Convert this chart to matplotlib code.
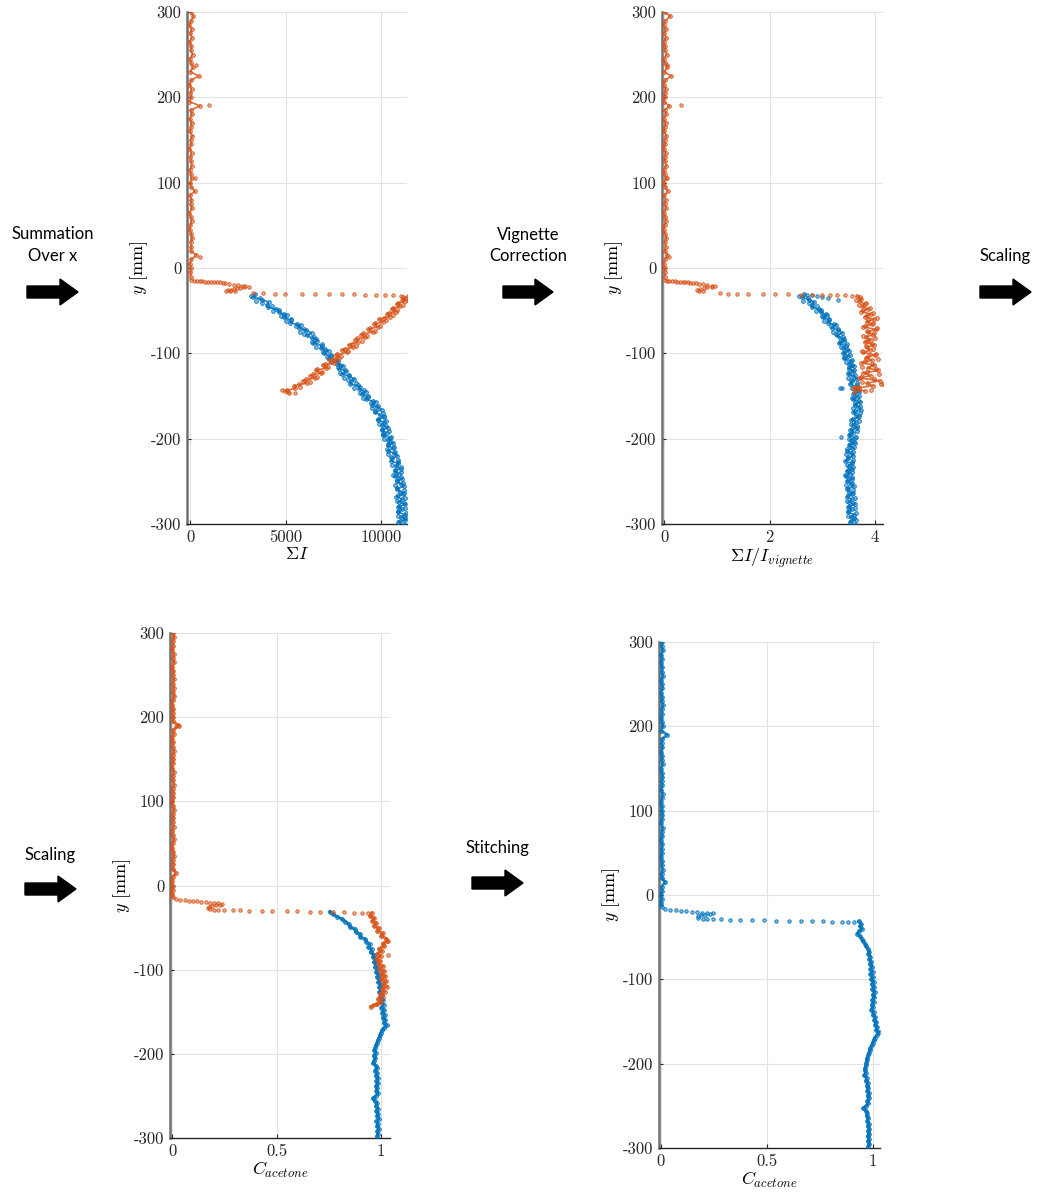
"""Acetone concentration profile processing: summation, vignette correction, scaling, stitching."""
import numpy as np
import matplotlib
matplotlib.use('Agg')
import matplotlib.pyplot as plt
from matplotlib.colors import to_rgba
from matplotlib.patches import FancyArrow

plt.rcParams['font.family'] = 'serif'
plt.rcParams['font.serif'] = ['cmr10']
plt.rcParams['mathtext.fontset'] = 'cm'
plt.rcParams['axes.unicode_minus'] = False

BLUE = '#0072BD'
ORANGE = '#D95319'

Y_TICKS = [-300, -200, -100, 0, 100, 200, 300]

# ---------------- panel 1: sum over x ----------------
p1_top = [30, 180, 60, -40, 90, 20, 110, -30, 70, 40,
          130, -20, 60, 150, 10, 460, 50, -30, 80, 20,
          60, -40, 520, 30, 100, -20, 90, 40, -10, 120,
          30, 60, -30, 80, 20, 50, 100, -20, 40, 90,
          10, 60, 250, -10, 70, 30, 100, -30, 50, 80,
          20, -20, 60, 110, 30, 70, 40, 330, 60, -20,
          40, 20, 30]
p1_extra_x = [1010, 520, 330, 260]
p1_extra_y = [191, 13, 238, 106]
p1_trans_x = [50, 200, 350, 500, 650, 800, 950, 1100, 1250, 1400, 1550, 1700, 1850, 2050,
              2300, 2500, 2700, 2900, 3100, 2800, 2600, 2450, 2300, 2150, 2000, 1900, 2100, 2350]
p1_trans_y = [-14.5, -15, -15.2, -15.5, -15.7, -15.9, -16.1, -16.3, -16.5, -16.7, -16.9, -17.1, -17.3, -18.5,
              -19.5, -20.2, -20.8, -21.3, -21.8, -22.5, -23.2, -23.8, -24.5, -25.2, -26, -26.8, -27.3, -26.6]
p1_gap_x = [3310, 3830, 4440, 4990, 5840, 6530, 7260, 7980, 8590, 9180, 9720, 10190, 10630, 11060]
p1_gap_y = [-29.6, -29.8, -29.9, -30.0, -30.2, -30.4, -30.6, -30.8, -31.0, -31.3, -31.5, -31.8, -32.0, -32.3]
p1_orange_low = [11420, 11150, 11230, 10820, 11010, 10560, 10780, 10310, 10480, 9880,
                 10120, 9650, 9820, 9330, 9560, 8950, 9180, 8640, 8790, 8300,
                 8520, 7950, 8200, 7650, 7800, 7290, 7560, 6950, 7130, 6600,
                 6850, 6280, 6530, 5900, 6100, 5450, 5520, 4980]
p1_orange_low_b = [11170, 11420, 10900, 11140, 10610, 10830, 10400, 10650, 10130, 10260,
                   9670, 9920, 9440, 9690, 9080, 9240, 8730, 8980, 8490, 8680,
                   8110, 8280, 7690, 7910, 7460, 7640, 7050, 7240, 6660, 6930,
                   6440, 6630, 6060, 6280, 5730, 5770, 5100, 5150]
p1_orange_low_extra_x = [5200, 4800, 5500, 11300, 11100]
p1_orange_low_extra_y = [-146, -143, -147, -35, -38]
p1_blue = [3420, 3320, 3760, 4110, 4010, 4070, 4650, 4650, 5060, 4920,
           5280, 5240, 5790, 5690, 6060, 6360, 6110, 6380, 6670, 6450,
           6890, 6850, 7250, 7030, 7360, 7250, 7730, 7670, 8030, 7810,
           8160, 7980, 8340, 8600, 8410, 8390, 8900, 8840, 9200, 9000,
           9310, 9220, 9720, 9550, 9810, 10030, 9710, 9920, 10130, 9820,
           10180, 10050, 10360, 10050, 10290, 10090, 10480, 10340, 10630, 10340,
           10630, 10380, 10670, 10860, 10600, 10500, 10910, 10760, 11020, 10720,
           10920, 10710, 11100, 10840, 11040, 11200, 10830, 10980, 11150, 10800,
           11120, 10960, 11240, 10900, 11110, 10880, 11240, 11060, 11280, 10900]
p1_blue_b = [3200, 3650, 3460, 3780, 4310, 4480, 4330, 4920, 4760, 5260,
             5000, 5600, 5530, 5980, 5760, 5990, 6490, 6590, 6400, 6900,
             6610, 7070, 6950, 7390, 7150, 7670, 7380, 7870, 7750, 8130,
             7840, 8310, 8040, 8270, 8710, 8800, 8580, 9110, 8900, 9340,
             9030, 9580, 9460, 9840, 9510, 9660, 10090, 10130, 9860, 10270,
             9900, 10270, 10060, 10410, 10080, 10510, 10130, 10540, 10350, 10660,
             10310, 10710, 10370, 10530, 10900, 10910, 10590, 11030, 10720, 11060,
             10640, 11070, 10840, 11130, 10740, 10830, 11210, 11190, 10880, 11250,
             10840, 11180, 10940, 11260, 10900, 11300, 10890, 11260, 11000, 11220]

# ---------------- panel 2: vignette corrected ----------------
p2_top = [0.01, 0.12, 0.02, -0.01, 0.03, 0.0, 0.04, -0.01, 0.02, 0.01,
          0.05, -0.01, 0.02, 0.06, 0.0, 0.13, 0.02, -0.01, 0.03, 0.01,
          0.02, -0.01, 0.10, 0.01, 0.04, -0.01, 0.03, 0.01, 0.0, 0.04,
          0.01, 0.02, -0.01, 0.03, 0.01, 0.02, 0.04, -0.01, 0.01, 0.03,
          0.0, 0.02, 0.07, 0.0, 0.03, 0.01, 0.04, -0.01, 0.02, 0.03,
          0.01, -0.01, 0.02, 0.04, 0.01, 0.03, 0.01, 0.06, 0.02, -0.01,
          0.01, 0.01, 0.01]
p2_extra_x = [0.32, 0.10, 0.05, 0.06]
p2_extra_y = [191, 13, 238, 106]
p2_trans_x = [0.02, 0.06, 0.1, 0.15, 0.2, 0.25, 0.3, 0.35, 0.4, 0.45, 0.5, 0.55, 0.6,
              0.66, 0.74, 0.82, 0.9, 0.96, 0.9, 0.82, 0.75, 0.68, 0.62, 0.66, 0.74]
p2_trans_y = [-14.5, -15, -15.3, -15.6, -15.8, -16, -16.2, -16.4, -16.6, -16.8, -17, -17.2, -17.4,
              -18.5, -19.3, -20, -20.6, -21.2, -22, -22.8, -23.6, -24.5, -25.4, -26.4, -27.2]
p2_gap_x = [1.06, 1.22, 1.39, 1.59, 1.88, 2.1, 2.35, 2.59, 2.8, 2.99, 3.15, 3.27, 3.43, 3.56]
p2_gap_y = [-29.8, -30.0, -30.2, -30.4, -30.6, -30.8, -31.0, -31.2, -31.4, -31.6, -31.8, -32.0, -32.2, -32.4]
p2_orange_low = [3.66, 3.74, 3.70, 3.80, 3.76, 3.86, 3.74, 3.92, 3.80, 3.98,
                 3.84, 3.94, 3.78, 4.02, 3.86, 3.96, 3.82, 3.92, 3.80, 3.98,
                 3.84, 3.90, 3.78, 4.00, 3.82, 3.94, 3.74, 3.98, 3.86, 4.06,
                 3.78, 3.92, 3.70, 4.10, 3.84, 3.96, 3.62, 3.80]
p2_orange_low_b = [3.72, 3.64, 3.82, 3.70, 3.90, 3.78, 3.96, 3.84, 4.04, 3.86,
                   3.96, 3.80, 4.04, 3.84, 3.98, 3.78, 4.00, 3.86, 3.94, 3.82,
                   3.96, 3.76, 4.02, 3.86, 4.06, 3.80, 3.94, 3.76, 4.02, 3.84,
                   4.08, 3.74, 3.98, 3.76, 4.12, 3.70, 3.92, 3.60]
p2_orange_low_extra_x = [4.15, 3.58, 3.70, 3.65]
p2_orange_low_extra_y = [-136, -141, -143, -139]
p2_blue = [2.66, 2.61, 2.74, 2.85, 2.80, 2.80, 2.98, 2.97, 3.08, 3.02,
           3.13, 3.10, 3.26, 3.19, 3.30, 3.38, 3.28, 3.34, 3.42, 3.32,
           3.44, 3.40, 3.51, 3.40, 3.49, 3.42, 3.55, 3.50, 3.60, 3.50,
           3.59, 3.50, 3.59, 3.65, 3.56, 3.52, 3.66, 3.61, 3.69, 3.59,
           3.65, 3.58, 3.71, 3.61, 3.68, 3.73, 3.59, 3.63, 3.68, 3.55,
           3.64, 3.58, 3.66, 3.53, 3.59, 3.50, 3.61, 3.54, 3.61, 3.50,
           3.57, 3.47, 3.54, 3.59, 3.49, 3.43, 3.56, 3.50, 3.57, 3.46,
           3.52, 3.44, 3.57, 3.47, 3.54, 3.60, 3.47, 3.51, 3.57, 3.46,
           3.56, 3.51, 3.61, 3.49, 3.56, 3.49, 3.60, 3.54, 3.63, 3.52]
p2_blue_b = [2.56, 2.72, 2.64, 2.75, 2.90, 2.94, 2.88, 3.06, 3.00, 3.13,
             3.04, 3.22, 3.17, 3.29, 3.20, 3.26, 3.40, 3.41, 3.33, 3.47,
             3.35, 3.47, 3.41, 3.52, 3.42, 3.56, 3.44, 3.56, 3.51, 3.60,
             3.49, 3.61, 3.49, 3.55, 3.66, 3.66, 3.56, 3.70, 3.61, 3.70,
             3.56, 3.70, 3.62, 3.71, 3.58, 3.61, 3.71, 3.70, 3.59, 3.70,
             3.55, 3.65, 3.56, 3.65, 3.52, 3.64, 3.50, 3.60, 3.52, 3.60,
             3.47, 3.58, 3.44, 3.49, 3.59, 3.57, 3.46, 3.59, 3.49, 3.57,
             3.43, 3.56, 3.48, 3.57, 3.44, 3.48, 3.59, 3.58, 3.48, 3.61,
             3.47, 3.58, 3.51, 3.61, 3.49, 3.63, 3.49, 3.60, 3.54, 3.62]
p2_blue_extra_x = [2.7, 2.8, 2.9, 3.0, 3.1, 3.3, 3.37, 3.33, 3.36]
p2_blue_extra_y = [-31.5, -32, -33, -34, -35, -38, -141, -141, -198]

# ---------------- panel 3: scaled ----------------
p3_top = [0.004, 0.008, 0.002, 0.006, 0.0, 0.007, 0.003, 0.009, 0.001, 0.006,
          0.004, 0.008, 0.002, 0.007, 0.003, 0.010, 0.004, 0.001, 0.006, 0.003,
          0.005, 0.002, 0.035, 0.004, 0.007, 0.001, 0.005, 0.003, 0.008, 0.002,
          0.006, 0.004, 0.001, 0.007, 0.003, 0.005, 0.008, 0.002, 0.004, 0.006,
          0.001, 0.005, 0.009, 0.002, 0.006, 0.003, 0.007, 0.001, 0.004, 0.008,
          0.003, 0.000, 0.005, 0.007, 0.002, 0.006, 0.003, 0.018, 0.004, 0.001,
          0.003, 0.002, 0.001]
p3_extra_x = [0.02, 0.03]
p3_extra_y = [189, 191]
p3_trans_x = [0.0, 0.005, 0.02, 0.04, 0.06, 0.08, 0.1, 0.12, 0.14, 0.16, 0.18, 0.2, 0.22, 0.24,
              0.23, 0.21, 0.19, 0.175, 0.17, 0.18, 0.2, 0.22]
p3_trans_y = [-12, -14, -16.5, -17, -17.5, -18, -18.5, -19, -19.5, -20, -20.5, -21, -21.3, -21.6,
              -22.6, -23.6, -24.6, -25.6, -27, -28.2, -28.6, -28.9]
p3_gap_x = [0.25, 0.29, 0.325, 0.37, 0.43, 0.48, 0.55, 0.6, 0.66, 0.71, 0.77, 0.825, 0.87, 0.91, 0.94]
p3_gap_y = [-29.2, -29.4, -29.6, -29.8, -30.0, -30.2, -30.4, -30.6, -30.9, -31.2, -31.5, -31.8, -32.1, -32.3, -32.5]
p3_orange_low = [0.955, 0.948, 0.968, 0.958, 0.978, 0.966, 0.99, 0.982, 1.008, 1.0,
                 1.025, 1.03, 1.008, 1.015, 0.99, 1.003, 0.982, 0.998, 0.978, 0.995,
                 0.985, 1.01, 0.992, 1.015, 1.0, 1.02, 0.998, 1.025, 1.01, 1.03,
                 1.005, 1.018, 0.995, 1.008, 0.985, 1.0, 0.98, 0.95]
p3_orange_low_extra_x = [0.96, 0.975, 1.035, 1.035]
p3_orange_low_extra_y = [-142, -141, -66, -83]
p3_blue = [0.755, 0.77, 0.79, 0.815, 0.83, 0.845, 0.85, 0.875, 0.88, 0.9,
           0.9, 0.925, 0.93, 0.945, 0.94, 0.955, 0.95, 0.965, 0.96, 0.975,
           0.965, 0.98, 0.97, 0.985, 0.975, 0.99, 0.98, 0.995, 0.985, 1.0,
           0.99, 1.0, 0.992, 1.005, 0.995, 1.01, 1.0, 1.012, 1.0, 1.015,
           1.005, 1.018, 1.008, 1.02, 1.012, 1.028, 1.015, 1.005, 1.0, 0.995,
           0.99, 0.985, 0.98, 0.975, 0.972, 0.968, 0.975, 0.965, 0.972, 0.968,
           0.962, 0.975, 0.98, 0.97, 0.982, 0.975, 0.985, 0.978, 0.985, 0.975,
           0.982, 0.978, 0.985, 0.975, 0.96, 0.97, 0.98, 0.975, 0.985, 0.978,
           0.985, 0.98, 0.99, 0.978, 0.985, 0.98, 0.99, 0.982, 0.985, 0.98]

# ---------------- panel 4: stitched ----------------
p4_top = [0.005, 0.003, 0.008, 0.002, 0.006, 0.001, 0.007, 0.004, 0.009, 0.002,
          0.005, 0.007, 0.001, 0.006, 0.004, 0.009, 0.003, 0.006, 0.002, 0.005,
          0.008, 0.001, 0.03, 0.005, 0.003, 0.007, 0.002, 0.006, 0.004, 0.008,
          0.001, 0.005, 0.007, 0.003, 0.006, 0.002, 0.008, 0.004, 0.001, 0.006,
          0.003, 0.007, 0.005, 0.002, 0.008, 0.004, 0.006, 0.001, 0.007, 0.003,
          0.005, 0.002, 0.006, 0.004, 0.008, 0.003, 0.005, 0.02, 0.003, 0.006,
          0.002, 0.004, 0.001]
p4_trans_x = [0.0, 0.005, 0.02, 0.045, 0.07, 0.095, 0.12, 0.145, 0.17, 0.195, 0.22, 0.245,
              0.23, 0.21, 0.19, 0.176, 0.176, 0.2, 0.22]
p4_trans_y = [-12, -14.6, -16.5, -17.2, -17.9, -18.6, -19.3, -20, -20.6, -21.1, -21.4, -21.6,
              -22.4, -23.2, -24, -24.6, -27.6, -28, -28.3]
p4_gap_x = [0.247, 0.283, 0.326, 0.373, 0.428, 0.487, 0.546, 0.606, 0.661, 0.715, 0.767, 0.809, 0.854, 0.885, 0.913]
p4_gap_y = [-28.6, -28.9, -29.2, -29.5, -29.8, -30.0, -30.3, -30.6, -30.8, -31.1, -31.4, -31.6, -31.8, -32.0, -32.2]
p4_blue = [0.935, 0.945, 0.94, 0.95, 0.935, 0.928, 0.94, 0.948, 0.955, 0.965,
           0.97, 0.978, 0.985, 0.98, 0.99, 0.984, 0.994, 0.986, 0.998, 0.99,
           1.0, 0.99, 1.002, 0.992, 1.005, 0.995, 1.008, 0.998, 1.01, 1.0,
           1.008, 0.998, 1.005, 0.995, 1.0, 0.994, 1.005, 1.0, 1.012, 1.008,
           1.018, 1.012, 1.022, 1.016, 1.03, 1.02, 1.01, 1.005, 1.0, 0.996,
           0.99, 0.988, 0.982, 0.978, 0.975, 0.972, 0.97, 0.968, 0.965, 0.962,
           0.968, 0.96, 0.972, 0.968, 0.978, 0.972, 0.98, 0.975, 0.982, 0.976,
           0.982, 0.975, 0.978, 0.97, 0.955, 0.968, 0.975, 0.972, 0.98, 0.975,
           0.982, 0.976, 0.985, 0.978, 0.984, 0.976, 0.982, 0.978, 0.985, 0.98]


def rows(vals, y0, y1):
    """sample rows (mm) for a list of readings"""
    return np.linspace(y0, y1, len(vals))


def dots(ax, x, y, color, s=6):
    ax.scatter(x, y, s=s, facecolors=to_rgba(color, 0.45), edgecolors=color,
               linewidths=0.6, zorder=3)


def trace(ax, x, y, color, lw=1.4):
    # dense profile: readings joined so the band reads as one jagged cloud
    ax.plot(x, y, color=color, lw=lw, alpha=0.85, zorder=3, solid_joinstyle='round')
    dots(ax, x, y, color, s=7)


def style(ax, xlim, xticks, xticklabels, xlabel):
    ax.set_xlim(*xlim)
    ax.set_ylim(-300, 300)
    ax.set_xticks(xticks)
    ax.set_xticklabels(xticklabels)
    ax.set_yticks(Y_TICKS)
    ax.set_yticklabels([str(t) for t in Y_TICKS])
    ax.tick_params(direction='in', length=3, width=0.8, labelsize=12, pad=4, colors='#262626')
    ax.grid(True, color='#e2e2e2', linewidth=0.8)
    ax.set_axisbelow(True)
    for s in ('top', 'right'):
        ax.spines[s].set_visible(False)
    ax.spines['left'].set_color('#707070')
    ax.spines['left'].set_linewidth(1.8)
    ax.spines['bottom'].set_color('#262626')
    ax.spines['bottom'].set_linewidth(1.0)
    ax.set_xlabel(xlabel, fontsize=13, labelpad=1)
    ax.set_ylabel('$y$ [mm]', fontsize=13, labelpad=1)


fig = plt.figure(figsize=(10.41, 12.03), dpi=100)

# overlay for arrows and step captions, in pixel units
ov = fig.add_axes([0, 0, 1, 1])
ov.set_xlim(0, 1041)
ov.set_ylim(1203, 0)
ov.axis('off')
steps = [
    (27, 292, 51, ['Summation', 'Over x'], [234, 256]),
    (503, 292, 50, ['Vignette', 'Correction'], [235, 256]),
    (980, 292, 51, ['Scaling'], [256]),
    (25, 889, 51, ['Scaling'], [855]),
    (472, 883, 51, ['Stitching'], [848]),
]
for x0, y0, length, lines, ty in steps:
    ov.add_patch(FancyArrow(x0, y0, length, 0, width=12, head_width=26, head_length=18,
                            length_includes_head=True, color='black'))
    for s, yy in zip(lines, ty):
        ov.text(x0 + length / 2, yy, s, ha='center', va='center', family='Lato', fontsize=12)

# panel 1
ax1 = fig.add_axes([187 / 1041, 1 - 524 / 1203, 220 / 1041, 512 / 1203])
trace(ax1, p1_blue, rows(p1_blue, -31, -298), BLUE, lw=1.2)
dots(ax1, p1_blue_b, rows(p1_blue_b, -32.5, -299.5), BLUE, s=7)
trace(ax1, p1_top, rows(p1_top, 300, -10), ORANGE, lw=1.2)
dots(ax1, p1_extra_x, p1_extra_y, ORANGE)
dots(ax1, p1_trans_x, p1_trans_y, ORANGE)
dots(ax1, p1_gap_x, p1_gap_y, ORANGE)
trace(ax1, p1_orange_low, rows(p1_orange_low, -33, -144), ORANGE, lw=1.2)
dots(ax1, p1_orange_low_b, rows(p1_orange_low_b, -34.5, -145.5), ORANGE, s=7)
dots(ax1, p1_orange_low_extra_x, p1_orange_low_extra_y, ORANGE)
style(ax1, (-160, 11360), [0, 5000, 10000], ['0', '5000', '10000'], r'$\Sigma I$')

# panel 2
ax2 = fig.add_axes([662 / 1041, 1 - 524 / 1203, 221 / 1041, 512 / 1203])
trace(ax2, p2_blue, rows(p2_blue, -31, -298), BLUE, lw=1.2)
dots(ax2, p2_blue_b, rows(p2_blue_b, -32.5, -299.5), BLUE, s=7)
dots(ax2, p2_blue_extra_x, p2_blue_extra_y, BLUE)
trace(ax2, p2_top, rows(p2_top, 300, -10), ORANGE, lw=1.2)
dots(ax2, p2_extra_x, p2_extra_y, ORANGE)
dots(ax2, p2_trans_x, p2_trans_y, ORANGE)
dots(ax2, p2_gap_x, p2_gap_y, ORANGE)
trace(ax2, p2_orange_low, rows(p2_orange_low, -33, -144), ORANGE, lw=1.2)
dots(ax2, p2_orange_low_b, rows(p2_orange_low_b, -34.5, -145.5), ORANGE, s=7)
dots(ax2, p2_orange_low_extra_x, p2_orange_low_extra_y, ORANGE)
style(ax2, (-0.04, 4.15), [0, 2, 4], ['0', '2', '4'], r'$\Sigma I / I_{vignette}$')

# panel 3
ax3 = fig.add_axes([170 / 1041, 1 - 1138 / 1203, 220 / 1041, 505 / 1203])
trace(ax3, p3_blue, rows(p3_blue, -31, -298), BLUE, lw=2.2)
trace(ax3, p3_top, rows(p3_top, 300, -10), ORANGE, lw=2.0)
dots(ax3, p3_extra_x, p3_extra_y, ORANGE)
dots(ax3, p3_trans_x, p3_trans_y, ORANGE)
dots(ax3, p3_gap_x, p3_gap_y, ORANGE)
trace(ax3, p3_orange_low, rows(p3_orange_low, -33, -144), ORANGE, lw=2.2)
dots(ax3, p3_orange_low_extra_x, p3_orange_low_extra_y, ORANGE)
style(ax3, (-0.01, 1.043), [0, 0.5, 1], ['0', '0.5', '1'], r'$C_{acetone}$')

# panel 4
ax4 = fig.add_axes([659 / 1041, 1 - 1148 / 1203, 221 / 1041, 506 / 1203])
trace(ax4, p4_top, rows(p4_top, 300, -10), BLUE, lw=2.0)
dots(ax4, p4_trans_x, p4_trans_y, BLUE)
dots(ax4, p4_gap_x, p4_gap_y, BLUE)
trace(ax4, p4_blue, rows(p4_blue, -31, -298), BLUE, lw=2.2)
style(ax4, (-0.009, 1.035), [0, 0.5, 1], ['0', '0.5', '1'], r'$C_{acetone}$')

fig.savefig('out.png', dpi=100)
